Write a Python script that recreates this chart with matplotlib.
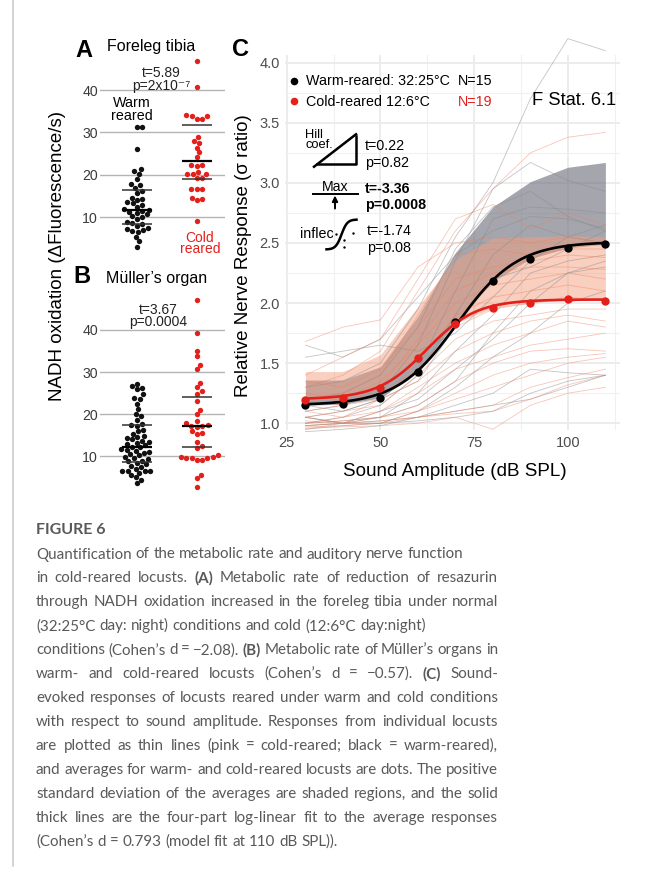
import numpy as np
import matplotlib
matplotlib.use("Agg")
import matplotlib.pyplot as plt
from matplotlib.ticker import MultipleLocator, FormatStrFormatter

plt.rcParams['font.family'] = ['Liberation Sans', 'DejaVu Sans']

W, H = 654, 869

# --- A: foreleg tibia, NADH oxidation per animal
tibia_warm = [31.2, 31.2, 26.1, 21.3, 20.8, 20.2, 19.0, 17.9, 17.5, 16.9, 16.3, 15.7,
              14.6, 14.3, 14.1, 13.5, 13.3, 12.8, 12.4, 12.0, 11.8, 11.5, 11.3, 11.0,
              10.7, 10.2, 10.0, 9.6, 9.0, 8.7, 8.5, 7.9, 7.5, 7.2, 6.9, 6.7, 6.6, 5.4,
              4.3, 3.1]
tibia_cold = [46.8, 40.7, 34.2, 33.8, 33.8, 33.2, 33.2, 29.0, 28.1, 27.6, 26.4, 25.3,
              24.2, 22.3, 22.1, 22.3, 20.6, 20.3, 20.1, 20.1, 19.3, 19.2, 16.6, 16.6,
              16.6, 14.6, 14.2, 14.0, 9.1]
tibia_warm_q = [8.4, 11.7, 16.5]   # lower quartile, median, upper quartile
tibia_cold_q = [19.0, 23.3, 31.8]

# --- B: Muller's organ
muller_warm = [27.2, 26.7, 26.2, 25.9, 24.7, 23.8, 23.6, 22.5, 21.2, 20.0, 19.5, 18.7,
               17.6, 17.5, 17.3, 16.3, 15.9, 15.4, 14.9, 14.6, 14.3, 14.0, 13.7, 13.4,
               13.2, 12.9, 12.6, 12.3, 12.1, 11.8, 11.6, 11.3, 11.0, 10.8, 10.5, 10.2,
               9.9, 9.6, 9.3, 9.0, 8.8, 8.5, 8.1, 7.8, 7.5, 7.1, 6.6, 6.6, 6.6, 6.5,
               6.1, 5.6, 5.0, 4.4, 3.7]
muller_cold = [47.1, 39.2, 35.1, 33.8, 31.7, 30.7, 27.4, 26.4, 25.4, 24.8, 23.1, 21.0,
               20.0, 18.5, 17.8, 17.4, 17.3, 17.2, 17.0, 16.0, 15.5, 15.2, 13.5, 12.5,
               11.9, 10.2, 9.8, 9.7, 9.8, 9.6, 9.7, 9.1, 9.1, 5.6, 4.8, 2.8]
muller_warm_q = [8.7, 12.3, 17.4]
muller_cold_q = [12.1, 17.2, 24.0]

# --- C: nerve response vs sound amplitude
db_levels = [30, 40, 50, 60, 70, 80, 90, 100, 110]
warm_mean = [1.15, 1.16, 1.21, 1.43, 1.84, 2.18, 2.37, 2.46, 2.49]
cold_mean = [1.19, 1.21, 1.29, 1.54, 1.83, 1.96, 2.00, 2.03, 2.02]
warm_sd_top = [1.36, 1.36, 1.47, 1.89, 2.42, 2.80, 3.01, 3.13, 3.17]
cold_sd_top = [1.43, 1.43, 1.57, 1.97, 2.36, 2.54, 2.55, 2.56, 2.55]
# fit parameters: bottom, top, inflection (dB), width
warm_fit = (1.15, 2.51, 70.5, 8.0)
cold_fit = (1.20, 2.03, 62.4, 6.6)

warm_lines = [
    [1.30, 1.35, 1.50, 1.95, 2.55, 3.00, 3.70, 4.20, 4.10],
    [1.10, 1.15, 1.25, 1.65, 2.35, 2.95, 3.17, 3.02, 2.93],
    [1.20, 1.25, 1.40, 1.80, 2.45, 2.80, 2.93, 2.72, 2.60],
    [1.05, 1.10, 1.20, 1.45, 2.10, 2.70, 2.80, 2.78, 2.75],
    [1.65, 1.55, 1.70, 2.05, 2.40, 2.60, 2.72, 2.70, 2.62],
    [1.00, 1.05, 1.15, 1.40, 1.90, 2.40, 2.65, 2.55, 2.50],
    [1.15, 1.10, 1.20, 1.35, 1.80, 2.20, 2.30, 2.45, 2.60],
    [0.98, 1.00, 1.05, 1.25, 1.60, 1.90, 2.25, 2.35, 2.40],
    [1.05, 1.00, 1.10, 1.20, 1.45, 1.70, 2.00, 2.25, 2.35],
    [1.55, 1.60, 1.65, 1.60, 1.75, 2.05, 2.35, 2.55, 2.65],
    [0.95, 0.98, 1.00, 1.10, 1.30, 1.55, 1.75, 2.00, 2.10],
    [1.00, 1.02, 1.05, 1.15, 1.35, 1.75, 2.10, 2.25, 2.30],
    [0.93, 0.95, 0.98, 1.05, 1.15, 1.25, 1.45, 1.42, 1.40],
    [0.98, 1.00, 1.02, 1.05, 1.10, 1.15, 1.20, 1.30, 1.40],
    [1.05, 1.00, 1.00, 1.02, 1.05, 1.10, 1.25, 1.35, 1.40],
]
cold_lines = [
    [1.30, 1.40, 1.60, 2.10, 2.60, 2.95, 3.25, 3.38, 3.42],
    [1.40, 1.55, 1.70, 2.20, 2.70, 2.82, 2.62, 2.75, 2.65],
    [1.68, 1.80, 1.86, 2.30, 2.50, 2.55, 2.50, 2.55, 2.50],
    [1.20, 1.25, 1.40, 1.90, 2.40, 2.45, 2.40, 2.45, 2.45],
    [1.35, 1.30, 1.45, 1.80, 2.20, 2.30, 2.35, 2.40, 2.38],
    [1.10, 1.15, 1.30, 1.70, 2.10, 2.25, 2.30, 2.30, 2.28],
    [1.25, 1.20, 1.35, 1.65, 2.00, 2.15, 2.20, 2.25, 2.20],
    [1.00, 1.05, 1.20, 1.50, 1.90, 2.05, 2.10, 2.15, 2.10],
    [1.15, 1.20, 1.25, 1.45, 1.80, 1.95, 2.00, 2.05, 2.02],
    [1.05, 1.10, 1.15, 1.40, 1.70, 1.85, 1.90, 1.95, 1.95],
    [1.20, 1.15, 1.20, 1.35, 1.60, 1.75, 1.85, 1.90, 1.85],
    [0.98, 1.00, 1.10, 1.30, 1.50, 1.65, 1.75, 1.85, 1.80],
    [1.10, 1.05, 1.10, 1.25, 1.45, 1.55, 1.65, 1.70, 1.75],
    [1.00, 1.02, 1.05, 1.15, 1.35, 1.50, 1.60, 1.62, 1.60],
    [0.95, 1.00, 1.00, 1.10, 1.25, 1.40, 1.50, 1.55, 1.58],
    [1.05, 1.00, 1.05, 1.10, 1.20, 1.30, 1.40, 1.50, 1.55],
    [0.97, 0.98, 1.00, 1.05, 1.10, 1.15, 1.30, 1.38, 1.45],
    [1.02, 1.00, 1.02, 1.05, 1.08, 1.10, 1.20, 1.32, 1.40],
    [0.96, 0.97, 0.98, 1.00, 1.05, 0.95, 1.15, 1.25, 1.30],
]

caption_lines = [
    ("Quantification of the metabolic rate and auditory nerve function", False),
    ("in cold-reared locusts. **(A)** Metabolic rate of reduction of resazurin", True),
    ("through NADH oxidation increased in the foreleg tibia under normal", True),
    ("(32:25°C day: night) conditions and cold (12:6°C day:night)", False),
    ("conditions (Cohen’s d = −2.08). **(B)** Metabolic rate of Müller’s organs in", True),
    ("warm- and cold-reared locusts (Cohen’s d = −0.57). **(C)** Sound-", True),
    ("evoked responses of locusts reared under warm and cold conditions", True),
    ("with respect to sound amplitude. Responses from individual locusts", True),
    ("are plotted as thin lines (pink = cold-reared; black = warm-reared),", True),
    ("and averages for warm- and cold-reared locusts are dots. The positive", True),
    ("standard deviation of the averages are shaded regions, and the solid", True),
    ("thick lines are the four-part log-linear fit to the average responses", True),
    ("(Cohen’s d = 0.793 (model fit at 110 dB SPL)).", False),
]

BLACK = '#111111'
RED = '#E3201B'


def box(x0, y0, x1, y1):
    return [x0 / W, 1 - y1 / H, (x1 - x0) / W, (y1 - y0) / H]


def label(x, y, s, **kw):
    # y in pixels from the top, at the text baseline
    kw.setdefault('va', 'baseline')
    return fig.text(x / W, 1 - y / H, s, **kw)


def swarm(values, ppu, dot=5.4, step=0.25):
    vals = np.asarray(values, float)
    ypx = vals * ppu
    offs = np.zeros(len(vals))
    placed = []
    cands = [0.0]
    for k in range(1, 200):
        cands += [k * step, -k * step]
    for i in np.argsort(vals):
        y = ypx[i]
        near = [(px, py) for px, py in placed if abs(py - y) < dot]
        for c in cands:
            if all((c - px) ** 2 + (y - py) ** 2 >= dot ** 2 for px, py in near):
                break
        placed.append((c, y))
        offs[i] = c
    return offs


def logistic(x, p):
    b, t, x0, s = p
    return b + (t - b) / (1 + np.exp(-(x - x0) / s))


def scatter_panel(ax, warm, cold, warm_q, cold_q, ppu, ylim):
    ax.set_xlim(-0.612, 1.472)
    ax.set_ylim(*ylim)
    ax.set_yticks([10, 20, 30, 40])
    ax.set_xticks([])
    ax.yaxis.grid(True, color='#B4B4B4', lw=1.0)
    ax.set_axisbelow(True)
    for sp in ax.spines.values():
        sp.set_visible(False)
    ax.tick_params(axis='y', length=0, pad=1.5, labelsize=10.2, labelcolor='#3A3A3A')
    for pos, vals, col in [(0, warm, BLACK), (1, cold, RED)]:
        off = swarm(vals, ppu) / 60.0
        ax.scatter(pos + off, vals, s=15, color=col, lw=0, zorder=3)
    for pos, q in [(0, warm_q), (1, cold_q)]:
        for k, v in enumerate(q):
            ax.plot([pos - 0.25, pos + 0.25], [v, v], color='k' if k == 1 else '#333333',
                    lw=1.6 if k == 1 else 1.1, zorder=4, solid_capstyle='butt')


fig = plt.figure(figsize=(W / 100, H / 100), dpi=100)

# panels A and B
axa = fig.add_axes(box(100, 56.1, 225, 251.2))
scatter_panel(axa, tibia_warm, tibia_cold, tibia_warm_q, tibia_cold_q, 4.243, (2, 48))
axb = fig.add_axes(box(100, 294.2, 225, 492.1))
scatter_panel(axb, muller_warm, muller_cold, muller_warm_q, muller_cold_q, 4.21, (1.5, 48.5))

# panel C
axc = fig.add_axes(box(285, 55, 620, 430))
axc.set_xlim(24.55, 113.9)
axc.set_ylim(0.944, 4.064)
axc.xaxis.set_major_locator(MultipleLocator(25))
axc.xaxis.set_minor_locator(MultipleLocator(12.5))
axc.yaxis.set_major_locator(MultipleLocator(0.5))
axc.yaxis.set_minor_locator(MultipleLocator(0.25))
axc.yaxis.set_major_formatter(FormatStrFormatter('%.1f'))
axc.grid(which='major', color='#EBEBEB', lw=1.3)
axc.grid(which='minor', color='#F0F0F0', lw=0.8)
axc.set_axisbelow(True)
for sp in axc.spines.values():
    sp.set_visible(False)
axc.tick_params(which='both', length=0, labelsize=10.5, labelcolor='#4D4D4D')
axc.tick_params(axis='y', pad=3.6)
axc.tick_params(axis='x', pad=4.5)

axc.fill_between(db_levels, warm_mean, warm_sd_top, color='#7A7A86', alpha=0.68, lw=0, zorder=1)
axc.fill_between(db_levels, cold_mean, cold_sd_top, color='#F4A080', alpha=0.5, lw=0, zorder=1.1)
for row in warm_lines:
    axc.plot(db_levels, row, color='#8A8A8A', alpha=0.5, lw=0.6, zorder=2, clip_on=False)
for row in cold_lines:
    axc.plot(db_levels, row, color='#F08060', alpha=0.45, lw=0.6, zorder=2, clip_on=False)
xs = np.linspace(30, 110, 200)
axc.plot(xs, logistic(xs, warm_fit), color='k', lw=1.9, zorder=4)
axc.plot(xs, logistic(xs, cold_fit), color=RED, lw=1.9, zorder=4)
axc.scatter(db_levels, warm_mean, s=36, color='k', lw=0, zorder=5)
axc.scatter(db_levels, cold_mean, s=36, color=RED, lw=0, zorder=5)

# overlay in pixel coordinates for the small symbols
ov = fig.add_axes([0, 0, 1, 1], zorder=10)
ov.set_xlim(0, W)
ov.set_ylim(H, 0)
ov.axis('off')
ov.plot([13, 13], [0, 866], color='#C8C8C8', lw=1.1)
ov.scatter([294], [81], s=30, color='k', lw=0)
ov.scatter([294], [101], s=30, color=RED, lw=0)
# Hill coefficient triangle
ov.plot([313, 357], [167.5, 133.5], color='k', lw=1.8, solid_capstyle='butt')
ov.plot([317, 355.5, 355.5], [164, 164, 136], color='k', lw=1.8)
# Max symbol
ov.plot([312.7, 358.3], [194, 194], color='k', lw=1.4)
ov.annotate('', xy=(335, 195.5), xytext=(335, 208.5),
            arrowprops=dict(arrowstyle='-|>', lw=1.4, color='k', mutation_scale=8,
                            shrinkA=0, shrinkB=0))
# inflection glyph
u = np.linspace(-1, 1, 60)
ov.plot(341.5 + 15 * u, 234.5 - 15 * np.tanh(2.6 * u), color='k', lw=1.8)
ov.scatter([335.5, 353, 344, 344], [233.5, 232.5, 240, 247], s=3, color='k', lw=0)

# texts (two-line labels anchored a few px low to land on the reference baselines)
label(84, 56.7, 'A', ha='center', fontsize=17, fontweight='bold')
label(82, 283.3, 'B', ha='center', fontsize=17, fontweight='bold')
label(241, 56, 'C', ha='center', fontsize=17, fontweight='bold')
label(107, 50.7, 'Foreleg tibia', fontsize=11.5)
label(106, 283.3, 'Müller’s organ', fontsize=11.5)
label(161, 90, 't=5.89\np=2x10⁻⁷', ha='center', multialignment='center',
      fontsize=10, color='#222222', linespacing=0.94)
label(132, 119.7, 'Warm\nreared', ha='center', multialignment='center', fontsize=10.3,
      linespacing=0.92)
label(200, 253, 'Cold\nreared', ha='center', multialignment='center', fontsize=10,
      color=RED, linespacing=0.75)
label(158.5, 326, 't=3.67\np=0.0004', ha='center', multialignment='center', fontsize=10,
      color='#222222', linespacing=0.8)
label(57, 256, 'NADH oxidation (ΔFluorescence/s)', va='center', ha='center',
      rotation=90, fontsize=13.5)

label(243, 256, 'Relative Nerve Response (σ ratio)', va='center', ha='center',
      rotation=90, fontsize=13.5)
label(455, 476, 'Sound Amplitude (dB SPL)', ha='center', fontsize=13.6)
label(306, 85, 'Warm-reared: 32:25°C', fontsize=10.3)
label(458, 85, 'N=15', fontsize=10.3)
label(306, 105.7, 'Cold-reared 12:6°C', fontsize=10.3)
label(458, 105.7, 'N=19', fontsize=10.3, color=RED)
label(532, 105, 'F Stat. 6.1', fontsize=13.2)
label(305, 148.5, 'Hill\ncoef.', fontsize=9.3, linespacing=0.79)
label(365, 167, 't=0.22\np=0.82', fontsize=10.3, linespacing=1.29)
label(335, 190.7, 'Max', ha='center', fontsize=10.2)
label(365, 209.5, 't=-3.36\np=0.0008', fontsize=10.3, fontweight='bold', linespacing=1.27)
label(300, 238.3, 'inflec', fontsize=10.3)
label(367, 252, 't=-1.74\np=0.08', fontsize=10.3, linespacing=1.3)

# caption
CAP_LEFT, CAP_RIGHT = 36, 498
CAP_COLOR = '#595959'
renderer = fig.canvas.get_renderer()


def width_of(s, size, weight='normal'):
    t = fig.text(0, 0, s, fontsize=size, family='Lato', fontweight=weight)
    w = t.get_window_extent(renderer).width
    t.remove()
    return w


cap_size = 10 * 427 / width_of(caption_lines[0][0], 10)
space_w = width_of('a a', cap_size) - width_of('aa', cap_size)

label(36, 534, 'FIGURE 6', fontsize=11.5, family='Lato', fontweight='bold', color=CAP_COLOR)

for i, (line, justify) in enumerate(caption_lines):
    y = 558.5 + 23.93 * i
    items = []
    for tok in line.split(' '):
        bold = tok.startswith('**')
        t = label(0, y, tok.strip('*'), fontsize=cap_size, family='Lato',
                  fontweight='bold' if bold else 'normal', color=CAP_COLOR)
        items.append(t)
    ws = [t.get_window_extent(renderer).width for t in items]
    gap = (CAP_RIGHT - CAP_LEFT - sum(ws)) / (len(ws) - 1) if justify else space_w
    x = CAP_LEFT
    for t, w in zip(items, ws):
        t.set_x(x / W)
        x += w + gap

fig.savefig('out.png', dpi=100)
